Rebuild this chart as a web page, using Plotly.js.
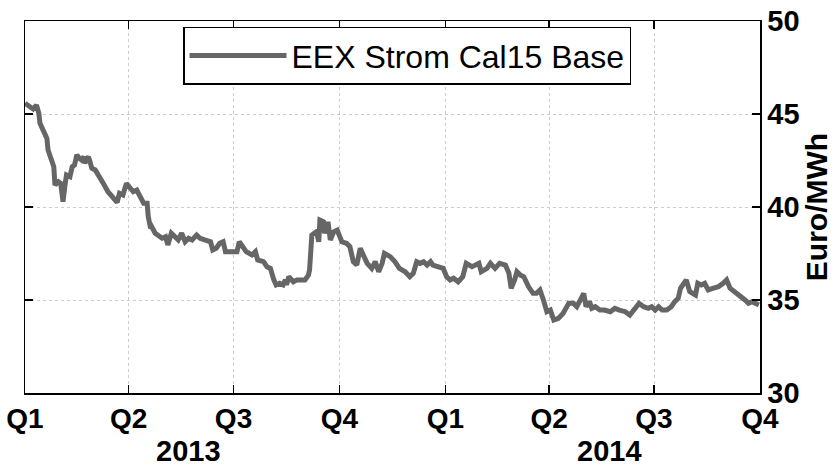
<!DOCTYPE html>
<html>
<head>
<meta charset="utf-8">
<script src="https://cdn.plot.ly/plotly-3.0.1.min.js"></script>
<style>html,body{margin:0;padding:0;background:#fff;}#chart{width:836px;height:467px;}</style>
</head>
<body>
<div id="chart"></div>
<script>
const seriesName = "EEX Strom Cal15 Base";
const dates = [
"2013-01-01","2013-01-05","2013-01-08","2013-01-11","2013-01-13","2013-01-14","2013-01-18","2013-01-20","2013-01-21","2013-01-24",
"2013-01-26","2013-01-27","2013-01-30","2013-02-01","2013-02-03","2013-02-05","2013-02-06","2013-02-09","2013-02-11","2013-02-13",
"2013-02-15","2013-02-17","2013-02-19","2013-02-21","2013-02-22","2013-02-24","2013-02-25","2013-02-26","2013-02-28","2013-03-03",
"2013-03-07","2013-03-10","2013-03-14","2013-03-19","2013-03-22","2013-03-24","2013-03-27","2013-03-30","2013-04-02","2013-04-05",
"2013-04-08","2013-04-11","2013-04-14","2013-04-17","2013-04-18","2013-04-20","2013-04-21","2013-04-24","2013-04-27","2013-04-30",
"2013-05-03","2013-05-05","2013-05-08","2013-05-11","2013-05-14","2013-05-17","2013-05-20","2013-05-23","2013-05-26","2013-05-30",
"2013-06-02","2013-06-06","2013-06-11","2013-06-13","2013-06-16","2013-06-19","2013-06-22","2013-06-24","2013-06-28","2013-07-04",
"2013-07-06","2013-07-09","2013-07-12","2013-07-17","2013-07-20","2013-07-22","2013-07-27","2013-07-30","2013-08-02","2013-08-05",
"2013-08-07","2013-08-10","2013-08-13","2013-08-15","2013-08-16","2013-08-18","2013-08-22","2013-08-25","2013-09-01","2013-09-04",
"2013-09-05","2013-09-07","2013-09-11","2013-09-13","2013-09-14","2013-09-17","2013-09-18","2013-09-20","2013-09-21","2013-09-23",
"2013-09-26","2013-09-29","2013-10-03","2013-10-07","2013-10-10","2013-10-13","2013-10-16","2013-10-19","2013-10-23","2013-10-25",
"2013-10-29","2013-11-01","2013-11-04","2013-11-07","2013-11-09","2013-11-14","2013-11-18","2013-11-22","2013-11-27","2013-12-01",
"2013-12-04","2013-12-07","2013-12-10","2013-12-13","2013-12-16","2013-12-19","2013-12-21","2013-12-26","2013-12-30","2014-01-02",
"2014-01-05","2014-01-08","2014-01-12","2014-01-16","2014-01-19","2014-01-24","2014-01-28","2014-01-30","2014-02-01","2014-02-06",
"2014-02-09","2014-02-13","2014-02-17","2014-02-22","2014-02-25","2014-02-27","2014-03-02","2014-03-04","2014-03-07","2014-03-10",
"2014-03-14","2014-03-18","2014-03-21","2014-03-24","2014-03-27","2014-03-30","2014-04-02","2014-04-05","2014-04-09","2014-04-13",
"2014-04-18","2014-04-22","2014-04-25","2014-04-28","2014-05-01","2014-05-03","2014-05-06","2014-05-08","2014-05-11","2014-05-15",
"2014-05-19","2014-05-24","2014-05-28","2014-06-01","2014-06-06","2014-06-10","2014-06-14","2014-06-18","2014-06-22","2014-06-26",
"2014-06-29","2014-07-02","2014-07-05","2014-07-08","2014-07-12","2014-07-16","2014-07-19","2014-07-22","2014-07-24","2014-07-26",
"2014-07-29","2014-08-01","2014-08-04","2014-08-06","2014-08-08","2014-08-11","2014-08-14","2014-08-17","2014-08-21","2014-08-26",
"2014-08-30","2014-09-02","2014-09-05","2014-09-09","2014-09-14","2014-09-18","2014-09-21","2014-09-24","2014-09-27","2014-09-30"
];
const prices = [
45.58,45.39,45.27,45.48,45.04,44.50,43.96,43.69,43.06,42.44,
42.17,41.18,41.36,41.27,40.29,41.30,41.72,41.63,42.17,42.26,
42.80,42.62,42.53,42.70,42.35,42.62,42.70,42.53,42.08,41.99,
41.63,41.27,40.82,40.47,40.25,40.74,40.65,41.27,41.09,40.82,
40.91,40.60,40.20,40.20,39.48,38.85,38.94,38.59,38.49,38.32,
38.40,37.96,38.59,38.40,38.23,38.59,38.13,38.32,38.23,38.49,
38.32,38.23,38.13,37.69,37.78,38.05,38.13,37.60,37.60,37.60,
38.13,37.87,37.60,37.42,37.60,37.15,37.06,36.79,36.70,36.08,
35.81,35.90,35.81,36.08,35.81,36.25,35.98,36.08,36.08,36.34,
36.61,38.49,38.67,38.13,39.30,39.21,38.59,38.94,39.21,38.23,
38.67,38.76,38.13,38.05,37.87,37.06,36.88,37.78,37.33,36.97,
36.70,37.06,36.52,36.97,37.51,37.33,37.06,36.70,36.52,36.25,
36.43,37.06,36.97,37.06,36.88,37.06,36.88,36.79,36.70,36.25,
36.08,36.17,35.98,36.25,36.97,36.79,36.88,36.97,36.52,36.70,
36.97,36.70,36.97,36.88,36.45,35.63,36.08,36.52,36.34,36.25,
35.72,35.36,35.36,35.54,35.00,34.37,34.46,33.92,34.01,34.28,
34.82,34.82,34.64,35.00,35.36,34.64,34.91,34.55,34.64,34.46,
34.46,34.37,34.55,34.46,34.37,34.19,34.46,34.82,34.64,34.55,
34.64,34.46,34.64,34.46,34.46,34.64,34.91,35.09,35.63,35.81,
36.08,35.45,35.36,35.27,35.90,35.81,35.90,35.54,35.63,35.72,
35.90,36.08,35.63,35.45,35.18,35.00,34.82,34.91,34.82,34.73
];
const quarterDates = ["2013-01-01","2013-04-01","2013-07-01","2013-10-01","2014-01-01","2014-04-01","2014-07-01","2014-10-01"];
const quarterLabels = ["Q1","Q2","Q3","Q4","Q1","Q2","Q3","Q4"];
const yearLabels = ["2013","2014"];
const yearLabelDates = ["2013-05-23","2014-05-23"];
const yTicks = [30,35,40,45,50];

const FONT = "Liberation Sans, Arial, Helvetica, sans-serif";
const bold = s => "<b>" + s + "</b>";
const trace = {
  x: dates, y: prices, type: "scatter", mode: "lines", name: seriesName,
  line: {color: "#666666", width: 5}
};
const layout = {
  width: 836, height: 467,
  margin: {l: 25, r: 76, t: 21, b: 74},
  paper_bgcolor: "#ffffff", plot_bgcolor: "#ffffff",
  font: {family: FONT, color: "#000"},
  showlegend: true,
  legend: {
    x: 0.215, y: 0.985, xanchor: "left", yanchor: "top",
    bgcolor: "#ffffff", bordercolor: "#000000", borderwidth: 1.5,
    font: {family: FONT, size: 32, color: "#000"},
    itemwidth: 97
  },
  xaxis: {
    type: "date", range: ["2013-01-01","2014-10-01"],
    tickmode: "array", tickvals: quarterDates, ticktext: quarterLabels.map(bold),
    ticks: "inside", ticklen: 8, tickcolor: "#000", tickwidth: 1.5,
    showline: true, linecolor: "#000", linewidth: 1.5, mirror: "ticks",
    showgrid: true, gridcolor: "#cccccc", griddash: "dot", gridwidth: 1,
    tickfont: {family: FONT, size: 28, color: "#000"},
    zeroline: false
  },
  yaxis: {
    side: "right", range: [30, 50],
    tickmode: "array", tickvals: yTicks, ticktext: yTicks.map(v => bold(String(v))),
    ticks: "inside", ticklen: 8, tickcolor: "#000", tickwidth: 1.5,
    showline: true, linecolor: "#000", linewidth: 1.5, mirror: "ticks",
    showgrid: true, gridcolor: "#cccccc", griddash: "dot", gridwidth: 1,
    tickfont: {family: FONT, size: 29, color: "#000"},
    title: {text: bold("Euro/MWh"), font: {family: FONT, size: 30, color: "#000"}, standoff: 4},
    zeroline: false
  },
  annotations: yearLabels.map((t, i) => ({
    text: bold(t), x: yearLabelDates[i], xref: "x", y: -0.155, yref: "paper",
    xanchor: "center", yanchor: "middle", showarrow: false,
    font: {family: FONT, size: 29, color: "#000"}
  }))
};
Plotly.newPlot("chart", [trace], layout, {displayModeBar: false, staticPlot: true});
</script>
</body>
</html>
